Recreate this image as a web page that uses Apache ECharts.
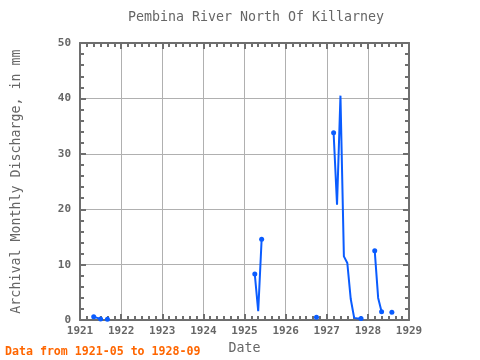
<!DOCTYPE html>
<html>
<head>
<meta charset="utf-8">
<script src="https://cdn.jsdelivr.net/npm/echarts@6/dist/echarts.min.js"></script>
<style>html,body{margin:0;padding:0;background:#fff}#c{width:480px;height:360px}</style>
</head>
<body>
<div id="c"></div>
<script>
var titleText = 'Pembina River North Of Killarney';
var yAxisTitle = 'Archival Monthly Discharge, in mm';
var xAxisTitle = 'Date';
var footNote = 'Data from 1921-05 to 1928-09';
var yearTicks = [1921, 1922, 1923, 1924, 1925, 1926, 1927, 1928, 1929];

var months = [
  '1921-05','1921-06','1921-07','1921-08','1921-09','1921-10',
  '1925-03','1925-04','1925-05','1925-06','1925-07',
  '1926-09','1926-10','1926-11',
  '1927-02','1927-03','1927-04','1927-05','1927-06','1927-07','1927-08','1927-09','1927-10','1927-11','1927-12',
  '1928-02','1928-03','1928-04','1928-05','1928-06','1928-07','1928-08','1928-09'
];
var discharge = [
  0.6, 0.4, 0.2, null, 0.15, null,
  null, 8.3, 1.6, 14.6, null,
  null, 0.5, null,
  null, 33.8, 20.8, 40.5, 11.5, 10.3, 3.8, 0.4, 0.3, 0.3, null,
  null, 12.5, 4.0, 1.5, null, null, 1.4, null
];

var seriesData = months.map(function (m, i) {
  var p = m.split('-');
  return [Number(p[0]) + (Number(p[1]) - 1) / 12, discharge[i]];
});

var chart = echarts.init(document.getElementById('c'), null, {renderer: 'canvas'});
var axisCol = '#6e6e6e';
var font = 'DejaVu Sans Mono';

function frameAxis(extra) {
  return Object.assign({
    axisLine: {show: true, onZero: false, lineStyle: {color: axisCol, width: 2}},
    axisTick: {show: true, inside: true, length: 6, lineStyle: {color: axisCol, width: 2}},
    splitLine: {show: false},
    axisLabel: {show: false}
  }, extra);
}

var option = {
  backgroundColor: '#fff',
  animation: false,
  graphic: [{
    type: 'text', x: 256, y: 18,
    style: {text: titleText, fill: '#666', font: '13.3px "DejaVu Sans Mono"', align: 'center', verticalAlign: 'middle'}
  }, {
    type: 'text', x: 5, y: 352,
    style: {text: footNote, fill: '#ff6600', font: 'bold 11.6px "DejaVu Sans Mono"', align: 'left', verticalAlign: 'middle'}
  }],
  grid: {left: 80, right: 71, top: 43, bottom: 38},
  xAxis: [
    frameAxis({
      type: 'value', position: 'bottom', min: 1921, max: 1929, interval: 1,
      minorTick: {show: true, splitNumber: 6, length: 4, lineStyle: {color: axisCol, width: 2}},
      splitLine: {show: true, lineStyle: {color: '#b0b0b0', width: 1}},
      axisLabel: {show: true, color: '#666', fontFamily: font, fontSize: 11, fontWeight: 'bold', margin: 6,
        formatter: function (v) { return yearTicks.indexOf(v) >= 0 ? String(v) : ''; }},
      name: xAxisTitle, nameLocation: 'middle', nameGap: 21,
      nameTextStyle: {fontFamily: font, fontSize: 13.3, color: '#666'}
    }),
    frameAxis({
      type: 'value', position: 'top', min: 1921, max: 1929, interval: 1,
      minorTick: {show: true, splitNumber: 6, length: 4, lineStyle: {color: axisCol, width: 2}}
    })
  ],
  yAxis: [
    frameAxis({
      type: 'value', position: 'left', min: 0, max: 50, interval: 10,
      minorTick: {show: true, splitNumber: 5, length: 4, lineStyle: {color: axisCol, width: 2}},
      splitLine: {show: true, lineStyle: {color: '#b0b0b0', width: 1}},
      axisLabel: {show: true, color: '#666', fontFamily: font, fontSize: 11, fontWeight: 'bold', margin: 9},
      name: yAxisTitle, nameLocation: 'middle', nameGap: 57,
      nameTextStyle: {fontFamily: font, fontSize: 13.3, color: '#666'}
    }),
    frameAxis({
      type: 'value', position: 'right', min: 0, max: 50, interval: 10,
      minorTick: {show: true, splitNumber: 5, length: 4, lineStyle: {color: axisCol, width: 2}}
    })
  ],
  series: [{
    type: 'line',
    xAxisIndex: 0, yAxisIndex: 0,
    data: seriesData,
    connectNulls: false,
    showAllSymbol: true,
    symbol: 'circle',
    symbolSize: function (val, params) {
      var i = params.dataIndex;
      var prev = i > 0 ? discharge[i - 1] : null;
      var next = i < discharge.length - 1 ? discharge[i + 1] : null;
      return (prev == null || next == null) ? 5 : 0;
    },
    lineStyle: {color: '#0a5cff', width: 2},
    itemStyle: {color: '#0a5cff'}
  }]
};
chart.setOption(option);
</script>
</body>
</html>
